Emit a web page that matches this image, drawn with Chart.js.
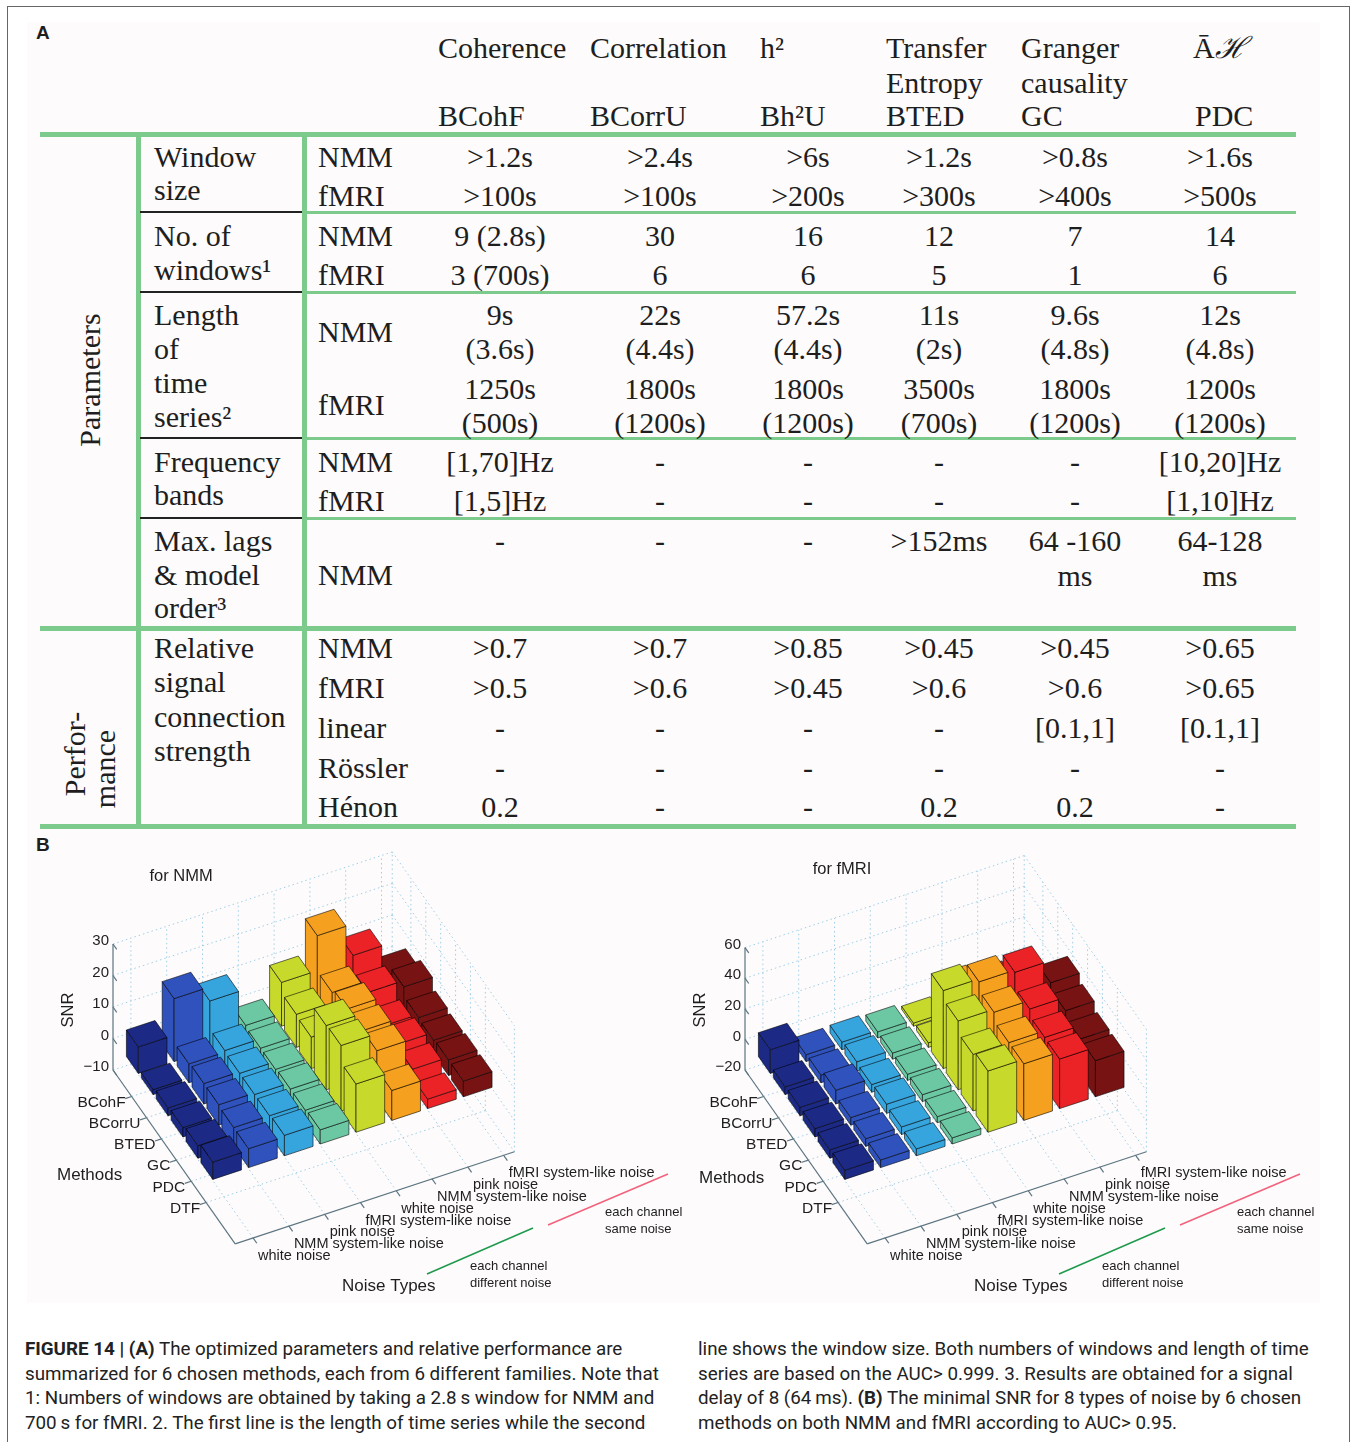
<!DOCTYPE html>
<html>
<head>
<meta charset="utf-8">
<script src="https://cdn.jsdelivr.net/npm/chart.js@4.4.1/dist/chart.umd.min.js"></script>
<style>
body{margin:0;width:1356px;height:1442px;position:relative;background:#fff;overflow:hidden;color:#1e1e1e}
#moldura{position:absolute;left:7px;top:6px;width:1343px;height:1460px;border:1px solid #666;box-sizing:border-box}
#fundo{position:absolute;left:27px;top:22px;width:1293px;height:1281px;background:#fdfbfb}
.t{position:absolute;font-family:"Liberation Serif","Times New Roman",serif;font-size:30px;line-height:34px;white-space:nowrap}
.c{transform:translateX(-50%)}
.rot{transform:translate(-50%,-50%) rotate(-90deg)}
.letra{position:absolute;font-family:"Liberation Sans",Arial,sans-serif;font-weight:bold;font-size:19px}
.lv{position:absolute;background:#7dcb8c}
.lp{position:absolute;background:#222}
canvas{position:absolute}
.leg{position:absolute;font-family:Roboto,"Liberation Sans",sans-serif;font-size:18.8px;line-height:24.7px;white-space:nowrap;color:#222}
</style>
</head>
<body>
<div id="moldura"></div>
<div id="fundo"></div>
<div class="letra" style="left:36px;top:22px">A</div>
<div class="letra" style="left:36px;top:834px">B</div>
<div id="tabela"></div>
<canvas id="graficoNMM"></canvas>
<canvas id="graficoFMRI"></canvas>
<div class="leg" style="left:25px;top:1337px">
<b>FIGURE 14 | (A)</b> The optimized parameters and relative performance are<br>
summarized for 6 chosen methods, each from 6 different families. Note that<br>
1: Numbers of windows are obtained by taking a 2.8&thinsp;s window for NMM and<br>
700&thinsp;s for fMRI. 2. The first line is the length of time series while the second
</div>
<div class="leg" style="left:698px;top:1337px">
line shows the window size. Both numbers of windows and length of time<br>
series are based on the AUC&gt; 0.999. 3. Results are obtained for a signal<br>
delay of 8 (64&thinsp;ms). <b>(B)</b> The minimal SNR for 8 types of noise by 6 chosen<br>
methods on both NMM and fMRI according to AUC&gt; 0.95.
</div>
<script>
// ---------- tabela (A) ----------
const colunasX = [500, 660, 808, 939, 1075, 1220];
const cabecalho1 = ['Coherence', 'Correlation', 'h²', 'Transfer', 'Granger', 'Ā<i>ℋ</i>'];
const cabecalho1X = [438, 590, 760, 886, 1021, 1193];
const cabecalho3 = ['BCohF', 'BCorrU', 'Bh²U', 'BTED', 'GC', 'PDC'];
const cabecalho3X = [438, 590, 760, 886, 1021, 1195];

const janelaNMM = ['>1.2s', '>2.4s', '>6s', '>1.2s', '>0.8s', '>1.6s'];
const janelaFMRI = ['>100s', '>100s', '>200s', '>300s', '>400s', '>500s'];
const nJanelasNMM = ['9 (2.8s)', '30', '16', '12', '7', '14'];
const nJanelasFMRI = ['3 (700s)', '6', '6', '5', '1', '6'];
const compNMM = ['9s', '22s', '57.2s', '11s', '9.6s', '12s'];
const compNMM2 = ['(3.6s)', '(4.4s)', '(4.4s)', '(2s)', '(4.8s)', '(4.8s)'];
const compFMRI = ['1250s', '1800s', '1800s', '3500s', '1800s', '1200s'];
const compFMRI2 = ['(500s)', '(1200s)', '(1200s)', '(700s)', '(1200s)', '(1200s)'];
const bandasNMM = ['[1,70]Hz', '-', '-', '-', '-', '[10,20]Hz'];
const bandasFMRI = ['[1,5]Hz', '-', '-', '-', '-', '[1,10]Hz'];
const lags1 = ['-', '-', '-', '>152ms', '64 -160', '64-128'];
const lags2 = ['', '', '', '', 'ms', 'ms'];
const perfNMM = ['>0.7', '>0.7', '>0.85', '>0.45', '>0.45', '>0.65'];
const perfFMRI = ['>0.5', '>0.6', '>0.45', '>0.6', '>0.6', '>0.65'];
const perfLinear = ['-', '-', '-', '-', '[0.1,1]', '[0.1,1]'];
const perfRossler = ['-', '-', '-', '-', '-', '-'];
const perfHenon = ['0.2', '-', '-', '0.2', '0.2', '-'];

const tabela = document.getElementById('tabela');
function texto(x, y, s, cls) {
    const d = document.createElement('div');
    d.className = 't' + (cls ? ' ' + cls : '');
    d.style.left = x + 'px';
    d.style.top = (y - 17) + 'px';
    d.innerHTML = s;
    tabela.appendChild(d);
}
function linhaValores(lista, y) {
    lista.forEach((v, i) => { if (v) texto(colunasX[i], y, v, 'c'); });
}
function faixa(cls, x, y, w, h) {
    const d = document.createElement('div');
    d.className = cls;
    d.style.left = x + 'px'; d.style.top = y + 'px';
    d.style.width = w + 'px'; d.style.height = h + 'px';
    tabela.appendChild(d);
}

cabecalho1.forEach((s, i) => texto(cabecalho1X[i], 48, s));
texto(886, 83, 'Entropy');
texto(1021, 83, 'causality');
cabecalho3.forEach((s, i) => texto(cabecalho3X[i], 116, s));

// linhas verdes e pretas
faixa('lv', 40, 132, 1256, 5);
faixa('lv', 40, 626, 1256, 5);
faixa('lv', 40, 824, 1256, 5);
faixa('lv', 136, 132, 5, 697);
faixa('lv', 302, 132, 5, 697);
[211, 291, 437, 517].forEach(y => {
    faixa('lv', 304, y, 992, 3);
    faixa('lp', 140, y, 162, 2);
});

// rótulos
[['Window', 157], ['size', 190], ['No. of', 236], ['windows¹', 270], ['Length', 315], ['of', 349],
 ['time', 383], ['series²', 417], ['Frequency', 462], ['bands', 495], ['Max. lags', 541],
 ['&amp; model', 575], ['order³', 608], ['Relative', 648], ['signal', 682], ['connection', 717],
 ['strength', 751]].forEach(r => texto(154, r[1], r[0]));
[['NMM', 157], ['fMRI', 196], ['NMM', 236], ['fMRI', 275], ['NMM', 332], ['fMRI', 405],
 ['NMM', 462], ['fMRI', 501], ['NMM', 575], ['NMM', 648], ['fMRI', 688], ['linear', 728],
 ['Rössler', 768], ['Hénon', 807]].forEach(r => texto(318, r[1], r[0]));

linhaValores(janelaNMM, 157);
linhaValores(janelaFMRI, 196);
linhaValores(nJanelasNMM, 236);
linhaValores(nJanelasFMRI, 275);
linhaValores(compNMM, 315);
linhaValores(compNMM2, 349);
linhaValores(compFMRI, 389);
linhaValores(compFMRI2, 423);
linhaValores(bandasNMM, 462);
linhaValores(bandasFMRI, 501);
linhaValores(lags1, 541);
linhaValores(lags2, 576);
linhaValores(perfNMM, 648);
linhaValores(perfFMRI, 688);
linhaValores(perfLinear, 728);
linhaValores(perfRossler, 768);
linhaValores(perfHenon, 807);

texto(90, 397, 'Parameters', 'rot');
texto(75, 771, 'Perfor-', 'rot');
texto(105, 786, 'mance', 'rot');

// ---------- gráficos 3D (B) ----------
const eixoMetodos = ['BCohF', 'BCorrU', 'BTED', 'GC', 'PDC', 'DTF'];
const eixoRuidos = ['white noise', 'NMM system-like noise', 'pink noise', 'fMRI system-like noise',
                    'white noise', 'NMM system-like noise', 'pink noise', 'fMRI system-like noise'];
const coresRuido = ['#1c2a86', '#2f52bd', '#37a5dd', '#6cc7a3', '#c7da2c', '#f5a01e', '#eb2226', '#781313'];
const ticksNMM = [-10, 0, 10, 20, 30];
const ticksFMRI = [-20, 0, 20, 40, 60];

// SNR mínimo por tipo de ruído (valores na ordem dos métodos)
const nmmBrancoDif = [-1.6, -8.4, -7.5, -7, -6, -4.5];
const nmmSistNmmDif = [10, -4, -3.5, -3.5, -4, -4];
const nmmRosaDif = [5.5, -3.5, -4, -4, -4, -3.5];
const nmmSistFmriDif = [-6, -6.5, -6.5, -6, -6, -5.5];
const nmmBrancoIg = [3.9, 0.5, 0, 10.4, 10.8, 5.3];
const nmmSistNmmIg = [15, 3.7, 5.2, 5, 5.4, -0.5];
const nmmRosaIg = [5, 0, -4, -3, -4.2, -7];
const nmmSistFmriIg = [-5, -2, -5, -5.5, -5, -5];

const fmriBrancoDif = [-4.5, -15, -14.5, -14.5, -14.5, -14];
const fmriSistNmmDif = [-15.5, -15, -11, -15, -15, -15];
const fmriRosaDif = [-15, -14, -15, -14, -15, -15.5];
const fmriSistFmriDif = [-16, -16, -16, -15.5, -16, -16];
const fmriBrancoIg = [-18, -17, 31, 25, 17, 20];
const fmriSistNmmIg = [-5, 0, 29, 23, 17, 17];
const fmriRosaIg = [-10, -5, 27.5, 17.4, 12.7, 12.4];
const fmriSistFmriIg = [-16, -10, 13, 8.6, 4, 3.6];

const snrNMM = [nmmBrancoDif, nmmSistNmmDif, nmmRosaDif, nmmSistFmriDif, nmmBrancoIg, nmmSistNmmIg, nmmRosaIg, nmmSistFmriIg];
const snrFMRI = [fmriBrancoDif, fmriSistNmmDif, fmriRosaDif, fmriSistFmriDif, fmriBrancoIg, fmriSistNmmIg, fmriRosaIg, fmriSistFmriIg];

const fonteSans = '"Liberation Sans", Arial, sans-serif';

// plugin que desenha as barras em 3D usando as escalas do gráfico
const barras3d = {
    id: 'barras3d',
    afterDraw(chart, args, g) {
        const ctx = chart.ctx;
        const sx = chart.scales.x, sy = chart.scales.y;
        const P = (m, n, z) => {
            const px = g.origem[0] + m * g.M[0] + n * g.N[0];
            const py = g.origem[1] + m * g.M[1] + n * g.N[1] - (z - g.zMin) * g.kz;
            return [sx.getPixelForValue(px), sy.getPixelForValue(py)];
        };
        const Q = (dx, dy) => [sx.getPixelForValue(g.origem[0] + dx), sy.getPixelForValue(g.origem[1] + dy)];
        const linha = (a, b) => { ctx.beginPath(); ctx.moveTo(a[0], a[1]); ctx.lineTo(b[0], b[1]); ctx.stroke(); };

        ctx.save();
        // grade pontilhada
        ctx.strokeStyle = '#9fcfe8';
        ctx.lineWidth = 1;
        ctx.setLineDash([1.5, 3]);
        const tickM = eixoMetodos.map((s, i) => g.mTick0 + i);
        const tickN = eixoRuidos.map((s, j) => g.nTick0 + j);
        tickN.forEach(n => {
            linha(P(0, n, g.zMin), P(g.mMax, n, g.zMin));
            linha(P(0, n, g.zMin), P(0, n, g.zMax));
        });
        tickM.forEach(m => {
            linha(P(m, 0, g.zMin), P(m, g.nMax, g.zMin));
            linha(P(m, g.nMax, g.zMin), P(m, g.nMax, g.zMax));
        });
        g.ticks.forEach(z => {
            linha(P(0, 0, z), P(0, g.nMax, z));
            linha(P(0, g.nMax, z), P(g.mMax, g.nMax, z));
        });
        linha(P(0, g.nMax, g.zMin), P(0, g.nMax, g.zMax));
        linha(P(g.mMax, g.nMax, g.zMin), P(g.mMax, g.nMax, g.zMax));
        ctx.setLineDash([]);

        // eixos
        ctx.strokeStyle = '#5d7582';
        ctx.lineWidth = 1.2;
        linha(P(0, 0, g.zMin), P(0, 0, g.zMax));
        linha(P(0, 0, g.zMin), P(g.mMax, 0, g.zMin));
        linha(P(g.mMax, 0, g.zMin), P(g.mMax, g.nMax, g.zMin));
        g.ticks.forEach(z => linha(P(0, 0, z), P(0.25, 0, z)));
        tickM.forEach(m => linha(P(m, 0, g.zMin), P(m, -0.18, g.zMin)));
        tickN.forEach(n => linha(P(g.mMax, n, g.zMin), P(g.mMax + 0.25, n, g.zMin)));

        // barras: de trás para frente
        const h = 0.4;
        ctx.lineWidth = 0.8;
        ctx.strokeStyle = 'rgba(0,0,0,0.72)';
        const face = (pts, cor) => {
            ctx.beginPath();
            pts.forEach((p, k) => k ? ctx.lineTo(p[0], p[1]) : ctx.moveTo(p[0], p[1]));
            ctx.closePath();
            ctx.fillStyle = cor;
            ctx.fill();
            ctx.stroke();
        };
        const ds = chart.data.datasets;
        for (let i = 0; i < eixoMetodos.length; i++) {
            for (let j = ds.length - 1; j >= 0; j--) {
                const v = ds[j].snr[i];
                const cor = ds[j].backgroundColor;
                const mc = g.mBarra0 + i, nc = g.nBarra0 + j;
                const m0 = mc - h, m1 = mc + h, n0 = nc - h, n1 = nc + h, z0 = g.zMin;
                face([P(m0, n0, z0), P(m1, n0, z0), P(m1, n0, v), P(m0, n0, v)], cor);
                face([P(m1, n0, z0), P(m1, n1, z0), P(m1, n1, v), P(m1, n0, v)], cor);
                face([P(m0, n0, v), P(m1, n0, v), P(m1, n1, v), P(m0, n1, v)], cor);
            }
        }

        // textos
        ctx.fillStyle = '#1e1e1e';
        ctx.font = '15px ' + fonteSans;
        ctx.textAlign = 'right';
        ctx.textBaseline = 'middle';
        g.ticks.forEach(z => {
            const p = P(0, 0, z);
            ctx.fillText(z < 0 ? '\u2212' + (-z) : String(z), p[0] - 4, p[1] - 3);
        });
        ctx.font = '15.5px ' + fonteSans;
        tickM.forEach((m, i) => {
            const p = P(m, 0, g.zMin);
            ctx.fillText(eixoMetodos[i], p[0] - 6, p[1] + 6);
        });
        ctx.textAlign = 'left';
        ctx.font = '14.5px ' + fonteSans;
        tickN.forEach((n, j) => {
            const p = P(g.mMax, n, g.zMin);
            ctx.fillText(eixoRuidos[j], p[0] + 5, p[1] + 18);
        });
        ctx.font = '17px ' + fonteSans;
        let p = Q(g.metodosPos[0], g.metodosPos[1]);
        ctx.fillText('Methods', p[0], p[1]);
        p = Q(229, 216);
        ctx.fillText('Noise Types', p[0], p[1]);
        ctx.font = '16.5px ' + fonteSans;
        ctx.textAlign = 'center';
        p = Q(g.titulo[1], g.titulo[2]);
        ctx.fillText(g.titulo[0], p[0], p[1]);
        p = Q(-45, -60);
        ctx.save();
        ctx.translate(p[0], p[1]);
        ctx.rotate(-Math.PI / 2);
        ctx.fillText('SNR', 0, 0);
        ctx.restore();

        ctx.textAlign = 'left';
        ctx.font = '13px ' + fonteSans;
        p = Q(357, 196); ctx.fillText('each channel', p[0], p[1]);
        p = Q(357, 213); ctx.fillText('different noise', p[0], p[1]);
        p = Q(492, 142); ctx.fillText('each channel', p[0], p[1]);
        p = Q(492, 159); ctx.fillText('same noise', p[0], p[1]);
        ctx.lineWidth = 1.5;
        ctx.strokeStyle = '#1f9a4d';
        linha(Q(314, 204), Q(420, 158));
        ctx.strokeStyle = '#f2627c';
        linha(Q(435, 155), Q(555, 104));
        ctx.restore();
    }
};

function criarGrafico(id, esq, topo, larg, alt, series, geo) {
    const canvas = document.getElementById(id);
    canvas.style.left = esq + 'px';
    canvas.style.top = topo + 'px';
    canvas.width = larg;
    canvas.height = alt;
    canvas.style.width = larg + 'px';
    canvas.style.height = alt + 'px';
    return new Chart(canvas.getContext('2d'), {
        type: 'scatter',
        data: {
            datasets: series.map((s, j) => ({
                label: eixoRuidos[j],
                data: [],
                snr: s,
                backgroundColor: coresRuido[j]
            }))
        },
        options: {
            responsive: false,
            animation: false,
            layout: { padding: 0 },
            plugins: { legend: { display: false }, tooltip: { enabled: false }, barras3d: geo },
            scales: {
                x: { type: 'linear', display: false, min: esq, max: esq + larg },
                y: { type: 'linear', display: false, reverse: true, min: topo, max: topo + alt }
            }
        },
        plugins: [barras3d]
    });
}

const geoBase = { M: [14.9, 21.2], N: [35.8, -11.8], mMax: 8.2, nMax: 7.8, mTick0: 1.25, nTick0: 0.5, mBarra0: 0.05, nBarra0: 0.92 };

criarGrafico('graficoNMM', 20, 838, 668, 470, snrNMM,
    Object.assign({}, geoBase, { origem: [113, 1070], kz: 3.15, zMin: -10, zMax: 30, ticks: ticksNMM,
        titulo: ['for NMM', 68, -194], metodosPos: [-56, 105] }));
criarGrafico('graficoFMRI', 688, 838, 640, 470, snrFMRI,
    Object.assign({}, geoBase, { origem: [745, 1070], kz: 1.53, zMin: -20, zMax: 60, ticks: ticksFMRI,
        titulo: ['for fMRI', 97, -201], metodosPos: [-46, 108] }));
</script>
</body>
</html>
